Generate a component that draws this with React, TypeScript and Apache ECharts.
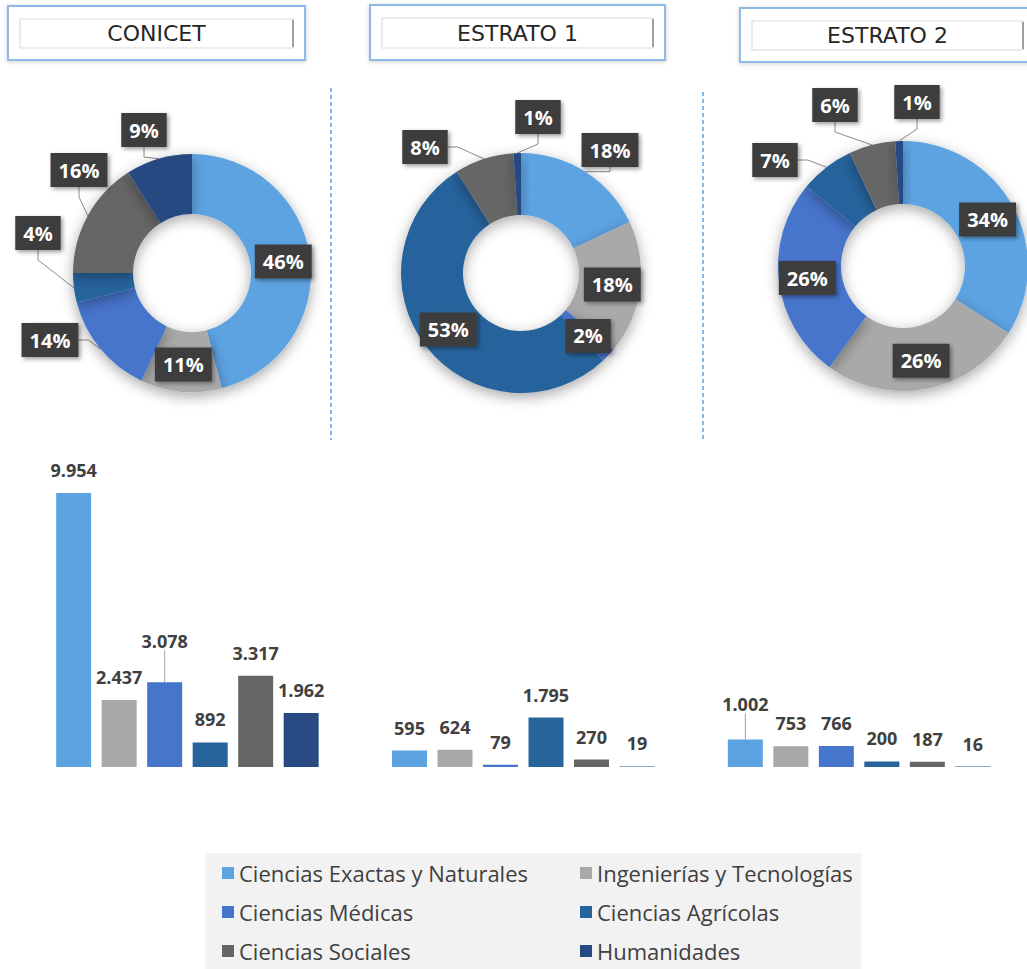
import React, { useEffect, useRef } from "react";
import * as echarts from "echarts";

const categories = [
  "Ciencias Exactas y Naturales",
  "Ingenierías y Tecnologías",
  "Ciencias Médicas",
  "Ciencias Agrícolas",
  "Ciencias Sociales",
  "Humanidades",
];
const groups = ["CONICET", "ESTRATO 1", "ESTRATO 2"];

// counts per group (bar chart)
const conicetCounts = [9954, 2437, 3078, 892, 3317, 1962];
const estrato1Counts = [595, 624, 79, 1795, 270, 19];
const estrato2Counts = [1002, 753, 766, 200, 187, 16];

// shares per group (donuts), as printed
const conicetPct = [46, 11, 14, 4, 16, 9];
const estrato1Pct = [18, 18, 2, 53, 8, 1];
const estrato2Pct = [34, 26, 26, 7, 6, 1];

const palette = ["#5DA3E2", "#A9A9A9", "#4675CC", "#27649C", "#666666", "#284A82"];

// style: where the outside donut labels sit (null = inside the ring)
const pieLabelSpots: (number[] | null)[][] = [
  [null, null, [50, 340], [38, 233], [79, 170], [144, 130]],
  [[610, 150], null, null, null, [425, 147], [538, 117]],
  [null, null, null, [775, 160], [835, 105], [917, 102]],
];
// style: lifted bar labels [series][group]
const barLabelLift = [
  [0, 0, 12],
  [0, 0, 0],
  [18, 0, 0],
  [0, 0, 0],
  [0, 0, 0],
  [0, 0, 0],
];

const fmt = (v: number) => String(v).replace(/\B(?=(\d{3})+(?!\d))/g, ".");

function titleBox(x: number, y: number, w: number, h: number, text: string) {
  return {
    type: "group",
    children: [
      {
        type: "rect",
        shape: { x, y, width: w, height: h },
        style: {
          fill: "#ffffff",
          stroke: "#8FB9E6",
          lineWidth: 2,
          shadowBlur: 4,
          shadowColor: "rgba(0,0,0,0.18)",
          shadowOffsetY: 1,
        },
      },
      {
        type: "rect",
        shape: { x: x + 12, y: y + 13, width: w - 24, height: h - 25 },
        style: { fill: "#ffffff", stroke: "#dcdcdc", lineWidth: 1.2 },
      },
      {
        type: "line",
        shape: { x1: x + w - 12, y1: y + 14, x2: x + w - 12, y2: y + h - 13 },
        style: { stroke: "#a0a0a0", lineWidth: 2 },
      },
      {
        type: "text",
        x: x + w / 2,
        y: y + h / 2 + 0.5,
        style: {
          text,
          fontFamily: "DejaVu Sans",
          fontSize: 22,
          fill: "#262626",
          align: "center",
          verticalAlign: "middle",
        },
      },
    ],
  };
}

function pieSeries(pcts: number[], spots: (number[] | null)[], center: number[], radius: number[]) {
  return {
    type: "pie",
    center,
    radius,
    startAngle: 90,
    clockwise: true,
    silent: true,
    avoidLabelOverlap: false,
    data: categories.map((n, i) => ({
      name: n,
      value: pcts[i],
      label: { position: spots[i] ? "outside" : "inside" },
      labelLine: { show: !!spots[i] },
    })),
    itemStyle: {
      shadowBlur: 14,
      shadowColor: "rgba(0,0,0,0.35)",
      shadowOffsetY: 4,
    },
    label: {
      formatter: "{c}%",
      color: "#ffffff",
      fontFamily: "Open Sans",
      fontWeight: "bold",
      fontSize: 20,
      lineHeight: 23,
      overflow: "none",
      backgroundColor: "#3d3d3d",
      padding: [6, 8, 5, 8],
      shadowBlur: 4,
      shadowOffsetX: 2,
      shadowOffsetY: 2,
      shadowColor: "rgba(0,0,0,0.4)",
    },
    labelLine: {
      length: 12,
      length2: 10,
      lineStyle: { color: "#8a8a8a", width: 1 },
    },
    labelLayout: (p: any) => {
      const s = spots[p.dataIndex];
      return s ? { x: s[0], y: s[1], align: "center", verticalAlign: "middle" } : {};
    },
  };
}

export default function App() {
  const ref = useRef<HTMLDivElement>(null);
  useEffect(() => {
    if (!ref.current) return;
    const chart = echarts.init(ref.current, undefined, { renderer: "svg" });
    const countsByGroup = [conicetCounts, estrato1Counts, estrato2Counts];
    const barSeries = categories.map((name, i) => ({
      type: "bar",
      name,
      barWidth: 35,
      barGap: "30%",
      silent: true,
      data: countsByGroup.map((g, gi) => ({
        value: g[i],
        labelLine: { show: barLabelLift[i][gi] > 0 },
      })),
      itemStyle: { color: palette[i] },
      label: {
        show: true,
        position: "top",
        distance: 14,
        formatter: (p: any) => fmt(p.value),
        color: "#404040",
        fontFamily: "Open Sans",
        fontWeight: "bold",
        fontSize: 18,
      },
      labelLine: { lineStyle: { color: "#a0a0a0", width: 1 } },
      labelLayout: (p: any) => {
        const lift = barLabelLift[i][p.dataIndex] || 0;
        return lift ? { dy: -lift } : {};
      },
    }));

    chart.setOption({
      animation: false,
      color: palette,
      graphic: [
        {
          type: "rect",
          z: -10,
          shape: { x: 205, y: 853, width: 656, height: 116 },
          style: { fill: "#f2f2f2" },
        },
        titleBox(8, 6, 297, 54, groups[0]),
        titleBox(370, 5, 295, 55, groups[1]),
        titleBox(740, 8, 295, 54, groups[2]),
        {
          type: "line",
          shape: { x1: 331, y1: 88, x2: 331, y2: 440 },
          style: { stroke: "#5DA3E6", lineWidth: 1.5, lineDash: [4, 3] },
        },
        {
          type: "line",
          shape: { x1: 703, y1: 92, x2: 703, y2: 440 },
          style: { stroke: "#5DA3E6", lineWidth: 1.5, lineDash: [4, 3] },
        },
      ],
      legend: {
        data: categories,
        left: 222,
        top: 861,
        padding: 0,
        width: 760,
        orient: "horizontal",
        icon: "rect",
        itemWidth: 12,
        itemHeight: 12,
        itemGap: 15,
        selectedMode: false,
        textStyle: {
          color: "#404040",
          fontFamily: "Open Sans",
          fontSize: 22,
          width: 326,
          lineHeight: 24,
        },
      },
      grid: { left: 19.5, width: 1032, top: 491.7, height: 275.3 },
      xAxis: { type: "category", data: groups, show: false },
      yAxis: { type: "value", min: 0, max: 10000, show: false },
      series: [
        ...barSeries,
        pieSeries(conicetPct, pieLabelSpots[0], [192, 273], [59, 119]),
        pieSeries(estrato1Pct, pieLabelSpots[1], [521, 273], [58, 120]),
        pieSeries(estrato2Pct, pieLabelSpots[2], [903, 266], [62, 125]),
      ],
    });
    return () => chart.dispose();
  }, []);
  return (
    <div
      ref={ref}
      style={{ position: "absolute", left: 0, top: 0, width: 1027, height: 969, background: "#fff" }}
    />
  );
}
